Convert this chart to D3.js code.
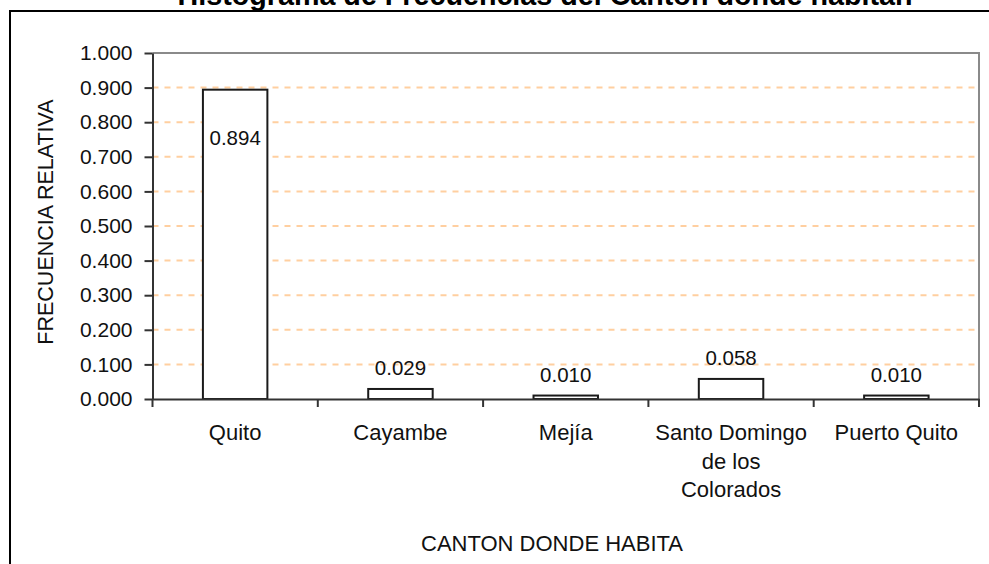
<!DOCTYPE html>
<html lang="es">
<head>
<meta charset="utf-8">
<title>Histograma de Frecuencias del Canton donde habitan</title>
<script src="https://cdn.jsdelivr.net/npm/d3@7"></script>
<style>
  html, body { margin: 0; padding: 0; background: #fff; }
  svg { display: block; font-family: "Liberation Sans", Arial, sans-serif; }
</style>
</head>
<body>
<svg id="chart" width="989" height="564"></svg>
<script>
// Relative frequency of the canton where respondents live
const categories = ["Quito", "Cayambe", "Mejía", "Santo Domingo de los Colorados", "Puerto Quito"];
const frecuencias = [0.894, 0.029, 0.010, 0.058, 0.010];
const yTicks = [0, 0.1, 0.2, 0.3, 0.4, 0.5, 0.6, 0.7, 0.8, 0.9, 1.0];

const titleText = "Histograma de Frecuencias del Canton donde habitan";
const xTitle = "CANTON DONDE HABITA";
const yTitle = "FRECUENCIA RELATIVA";

const svg = d3.select("#chart");
const W = 989, H = 564;
const plot = { left: 152.5, top: 53, right: 979, bottom: 399 };

// Chart frame
svg.append("rect")
  .attr("x", 10).attr("y", 11)
  .attr("width", 1000).attr("height", 600)
  .attr("fill", "#fff").attr("stroke", "#000").attr("stroke-width", 2);

// Title (sits above the frame)
svg.append("text")
  .attr("x", 545).attr("y", 5)
  .attr("text-anchor", "middle")
  .attr("font-weight", "bold")
  .attr("font-size", 28.7)
  .attr("fill", "#000")
  .text(titleText);

const x = d3.scaleBand()
  .domain(categories)
  .range([plot.left, plot.right])
  .paddingInner(0).paddingOuter(0);

const y = d3.scaleLinear()
  .domain([0, 1])
  .range([plot.bottom, plot.top]);

// Dashed gridlines
svg.append("g")
  .selectAll("line")
  .data(yTicks.filter(t => t > 0 && t < 1))
  .join("line")
  .attr("x1", plot.left).attr("x2", plot.right)
  .attr("y1", d => y(d)).attr("y2", d => y(d))
  .attr("stroke", "#FFCFA0")
  .attr("stroke-width", 2)
  .attr("stroke-dasharray", "6,6");

// Plot area top/right border
svg.append("path")
  .attr("d", `M${plot.left},${y(1)}H${plot.right}V${plot.bottom}`)
  .attr("fill", "none")
  .attr("stroke", "#8a8a8a")
  .attr("stroke-width", 2);

// Bars
const barW = x.bandwidth() * 0.39;
svg.append("g")
  .selectAll("rect")
  .data(categories.map((c, i) => ({ c, v: frecuencias[i] })))
  .join("rect")
  .attr("x", d => x(d.c) + (x.bandwidth() - barW) / 2)
  .attr("y", d => y(d.v))
  .attr("width", barW)
  .attr("height", d => y(0) - y(d.v))
  .attr("fill", "#fff")
  .attr("stroke", "#1a1a1a")
  .attr("stroke-width", 2);

// Value labels: inside the tall bar, above the short ones
const fmt = d3.format(".3f");
svg.append("g")
  .selectAll("text")
  .data(categories.map((c, i) => ({ c, v: frecuencias[i] })))
  .join("text")
  .attr("x", d => x(d.c) + x.bandwidth() / 2)
  .attr("y", d => d.v > 0.5 ? y(d.v) + 55 : y(d.v) - 14)
  .attr("text-anchor", "middle")
  .attr("font-size", 20.5)
  .attr("fill", "#111")
  .text(d => fmt(d.v));

// Y axis
const yAxis = svg.append("g")
  .attr("transform", `translate(${plot.left},0)`)
  .call(d3.axisLeft(y).tickValues(yTicks).tickFormat(fmt).tickSize(8).tickPadding(12).tickSizeOuter(0));
yAxis.select(".domain").attr("stroke", "#333").attr("stroke-width", 2);
yAxis.selectAll(".tick line").attr("stroke", "#333").attr("stroke-width", 2);
yAxis.selectAll(".tick text")
  .attr("font-size", 21).attr("fill", "#111")
  .attr("font-family", "'Liberation Sans', Arial, sans-serif");

// X axis: labels centred on categories, ticks at category boundaries
const xAxis = svg.append("g")
  .attr("transform", `translate(0,${plot.bottom})`)
  .call(d3.axisBottom(x).tickSize(0).tickPadding(0).tickSizeOuter(0));
xAxis.select(".domain").attr("stroke", "#333").attr("stroke-width", 2);
xAxis.selectAll(".tick text").remove();

const bounds = d3.range(categories.length + 1).map(i => plot.left + i * x.step());
xAxis.append("g").selectAll("line")
  .data(bounds)
  .join("line")
  .attr("x1", d => d).attr("x2", d => d)
  .attr("y1", 0).attr("y2", 8)
  .attr("stroke", "#333").attr("stroke-width", 2);

// Wrap long category names to the band width
const measure = svg.append("text").attr("font-size", 22).attr("visibility", "hidden");
function wrap(label, maxW) {
  const words = label.split(" ");
  const lines = [];
  let cur = "";
  words.forEach(w => {
    const test = cur ? cur + " " + w : w;
    measure.text(test);
    if (cur && measure.node().getComputedTextLength() > maxW) {
      lines.push(cur);
      cur = w;
    } else {
      cur = test;
    }
  });
  if (cur) lines.push(cur);
  return lines;
}

const catLabels = svg.append("g")
  .selectAll("text")
  .data(categories)
  .join("text")
  .attr("x", d => x(d) + x.bandwidth() / 2)
  .attr("y", 440)
  .attr("text-anchor", "middle")
  .attr("font-size", 22)
  .attr("fill", "#111");
catLabels.each(function(d) {
  const t = d3.select(this);
  const cx = x(d) + x.bandwidth() / 2;
  wrap(d, 158).forEach((line, i) => {
    t.append("tspan").attr("x", cx).attr("dy", i === 0 ? 0 : 28.5).text(line);
  });
});
measure.remove();

// Axis titles
svg.append("text")
  .attr("x", 552).attr("y", 551)
  .attr("text-anchor", "middle")
  .attr("font-size", 22)
  .attr("fill", "#111")
  .text(xTitle);

svg.append("text")
  .attr("transform", `translate(53,222) rotate(-90)`)
  .attr("text-anchor", "middle")
  .attr("font-size", 21.5)
  .attr("fill", "#111")
  .text(yTitle);
</script>
</body>
</html>
